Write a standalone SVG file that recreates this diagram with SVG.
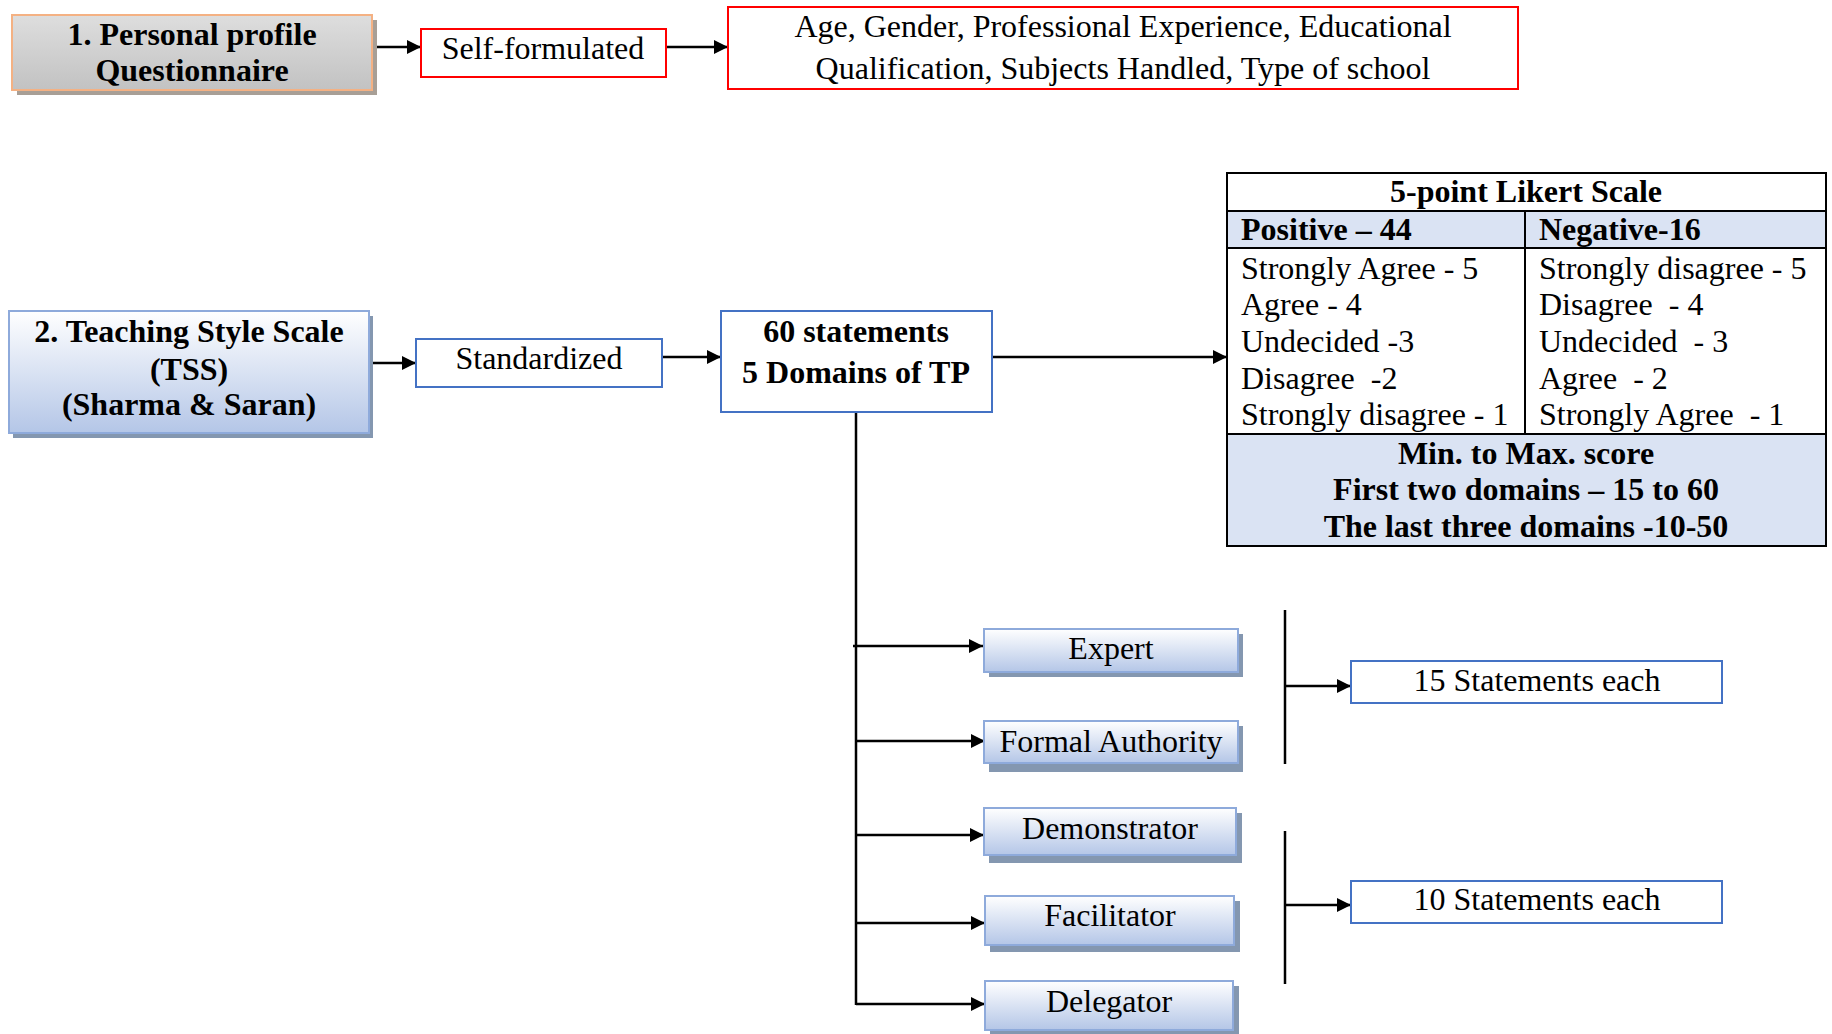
<svg xmlns="http://www.w3.org/2000/svg" width="1832" height="1034" viewBox="0 0 1832 1034">
<defs>
<linearGradient id="gGray" x1="0" y1="0" x2="0" y2="1">
<stop offset="0" stop-color="#dedede"/>
<stop offset="1" stop-color="#c2c2c2"/>
</linearGradient>
<linearGradient id="gBlue" x1="0" y1="0" x2="0" y2="1">
<stop offset="0" stop-color="#ffffff"/>
<stop offset="1" stop-color="#b4c6e7"/>
</linearGradient>
<marker id="ah" markerUnits="userSpaceOnUse" markerWidth="16" markerHeight="14" refX="14" refY="7" orient="auto">
<path d="M0,0 L14,7 L0,14 z" fill="#000"/>
</marker>
<style>
text{font-family:"Liberation Serif","Times New Roman",serif;font-size:32px;fill:#000}
.b{font-weight:bold}
.c{text-anchor:middle}
.red{fill:#fff;stroke:#ff0000;stroke-width:2}
.blu{fill:#fff;stroke:#4472c4;stroke-width:2}
.dom{fill:url(#gBlue);stroke:#8eaadb;stroke-width:2}
.shb{fill:#8497b0}
.con{stroke:#000;stroke-width:2.5;fill:none}
.arr{stroke:#000;stroke-width:2.5;fill:none;marker-end:url(#ah)}
.tb{stroke:#000;stroke-width:2;fill:none}
</style>
</defs>

<g id="connectors">
<line class="arr" x1="372" y1="47" x2="421" y2="47"/>
<line class="arr" x1="666" y1="47" x2="728" y2="47"/>
<line class="arr" x1="369" y1="363" x2="416" y2="363"/>
<line class="arr" x1="662" y1="357" x2="721" y2="357"/>
<line class="arr" x1="992" y1="357" x2="1227" y2="357"/>
<line class="con" x1="856" y1="412" x2="856" y2="1005"/>
<line class="arr" x1="853" y1="646" x2="983" y2="646"/>
<line class="arr" x1="856" y1="741" x2="985" y2="741"/>
<line class="arr" x1="856" y1="835" x2="984" y2="835"/>
<line class="arr" x1="856" y1="923" x2="985" y2="923"/>
<line class="arr" x1="856" y1="1004" x2="985" y2="1004"/>
<line class="con" x1="1285" y1="610" x2="1285" y2="764"/>
<line class="con" x1="1285" y1="831" x2="1285" y2="984"/>
<line class="arr" x1="1285" y1="686" x2="1351" y2="686"/>
<line class="arr" x1="1285" y1="905" x2="1351" y2="905"/>
</g>

<g id="personal-profile">
<rect x="17" y="20" width="360" height="75" fill="#a89f96"/>
<rect x="12" y="15" width="360" height="75" fill="url(#gGray)" stroke="#f4b183" stroke-width="2"/>
<text class="b c" x="192" y="45">1. Personal profile</text>
<text class="b c" x="192" y="81">Questionnaire</text>
</g>

<g id="self-formulated">
<rect class="red" x="421" y="29" width="245" height="48"/>
<text class="c" x="543" y="59">Self-formulated</text>
</g>

<g id="profile-details">
<rect class="red" x="728" y="7" width="790" height="82"/>
<text class="c" x="1123" y="37">Age, Gender, Professional Experience, Educational</text>
<text class="c" x="1123" y="79">Qualification, Subjects Handled, Type of school</text>
</g>

<g id="tss">
<rect class="shb" x="13" y="316" width="360" height="122"/>
<rect class="dom" x="9" y="311" width="360" height="122"/>
<text class="b c" x="189" y="342">2. Teaching Style Scale</text>
<text class="b c" x="189" y="380">(TSS)</text>
<text class="b c" x="189" y="415">(Sharma &amp; Saran)</text>
</g>

<g id="standardized">
<rect class="blu" x="416" y="339" width="246" height="48"/>
<text class="c" x="539" y="369">Standardized</text>
</g>

<g id="statements60">
<rect class="blu" x="721" y="311" width="271" height="101"/>
<text class="b c" x="856" y="342">60 statements</text>
<text class="b c" x="856" y="383">5 Domains of TP</text>
</g>

<g id="likert">
<rect x="1227" y="211" width="599" height="37" fill="#dae3f3"/>
<rect x="1227" y="434" width="599" height="112" fill="#dae3f3"/>
<rect class="tb" x="1227" y="173" width="599" height="373"/>
<line class="tb" x1="1227" y1="211" x2="1826" y2="211"/>
<line class="tb" x1="1227" y1="248" x2="1826" y2="248"/>
<line class="tb" x1="1227" y1="434" x2="1826" y2="434"/>
<line class="tb" x1="1525" y1="211" x2="1525" y2="434"/>
<text class="b c" x="1526" y="202">5-point Likert Scale</text>
<text class="b" x="1241" y="240">Positive – 44</text>
<text class="b" x="1539" y="240">Negative-16</text>
<text x="1241" y="279">Strongly Agree - 5</text>
<text x="1241" y="315">Agree - 4</text>
<text x="1241" y="352" xml:space="preserve">Undecided -3</text>
<text x="1241" y="389" xml:space="preserve">Disagree  -2</text>
<text x="1241" y="425">Strongly disagree - 1</text>
<text x="1539" y="279">Strongly disagree - 5</text>
<text x="1539" y="315" xml:space="preserve">Disagree  - 4</text>
<text x="1539" y="352" xml:space="preserve">Undecided  - 3</text>
<text x="1539" y="389" xml:space="preserve">Agree  - 2</text>
<text x="1539" y="425" xml:space="preserve">Strongly Agree  - 1</text>
<text class="b c" x="1526" y="464">Min. to Max. score</text>
<text class="b c" x="1526" y="500">First two domains – 15 to 60</text>
<text class="b c" x="1526" y="537">The last three domains -10-50</text>
</g>

<g id="expert">
<rect class="shb" x="989" y="634" width="254" height="43"/>
<rect class="dom" x="984" y="629" width="254" height="43"/>
<text class="c" x="1111" y="659">Expert</text>
</g>

<g id="formal-authority">
<rect class="shb" x="989" y="726" width="254" height="46"/>
<rect class="dom" x="984" y="721" width="254" height="42"/>
<text class="c" x="1111" y="752">Formal Authority</text>
</g>

<g id="demonstrator">
<rect class="shb" x="989" y="813" width="253" height="50"/>
<rect class="dom" x="984" y="808" width="252" height="47"/>
<text class="c" x="1110" y="839">Demonstrator</text>
</g>

<g id="facilitator">
<rect class="shb" x="990" y="901" width="250" height="51"/>
<rect class="dom" x="985" y="896" width="249" height="49"/>
<text class="c" x="1110" y="926">Facilitator</text>
</g>

<g id="delegator">
<rect class="shb" x="990" y="986" width="249" height="48"/>
<rect class="dom" x="985" y="981" width="248" height="49"/>
<text class="c" x="1109" y="1012">Delegator</text>
</g>

<g id="fifteen">
<rect class="blu" x="1351" y="661" width="371" height="42"/>
<text class="c" x="1537" y="691">15 Statements each</text>
</g>

<g id="ten">
<rect class="blu" x="1351" y="881" width="371" height="42"/>
<text class="c" x="1537" y="910">10 Statements each</text>
</g>
</svg>
